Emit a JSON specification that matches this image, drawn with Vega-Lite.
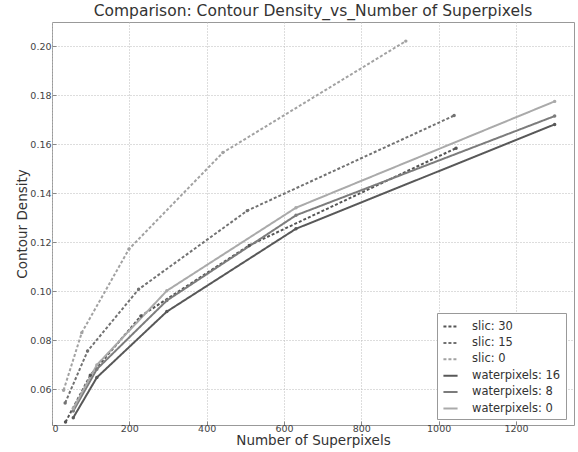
{
  "$schema": "https://vega.github.io/schema/vega-lite/v6.json",
  "width": 522,
  "height": 403,
  "autosize": {"type": "none"},
  "padding": {"left": 52, "top": 22, "right": 4, "bottom": 27},
  "background": "#ffffff",
  "title": {"text": "Comparison: Contour Density_vs_Number of Superpixels", "fontSize": 15.5, "font": "DejaVu Sans", "fontWeight": "normal", "color": "#333333", "offset": 3, "anchor": "middle"},
  "data": {"values": [
    {"series": "slic: 30", "x": 35, "y": 0.0467},
    {"series": "slic: 30", "x": 99, "y": 0.0658},
    {"series": "slic: 30", "x": 230, "y": 0.0900},
    {"series": "slic: 30", "x": 510, "y": 0.1188},
    {"series": "slic: 30", "x": 1045, "y": 0.1585},
    {"series": "slic: 15", "x": 34, "y": 0.0545},
    {"series": "slic: 15", "x": 92, "y": 0.0757},
    {"series": "slic: 15", "x": 224, "y": 0.1009},
    {"series": "slic: 15", "x": 505, "y": 0.1330},
    {"series": "slic: 15", "x": 1040, "y": 0.1718},
    {"series": "slic: 0", "x": 30, "y": 0.0597},
    {"series": "slic: 0", "x": 77, "y": 0.0832},
    {"series": "slic: 0", "x": 199, "y": 0.1173},
    {"series": "slic: 0", "x": 442, "y": 0.1567},
    {"series": "slic: 0", "x": 915, "y": 0.2022},
    {"series": "waterpixels: 16", "x": 55, "y": 0.0485},
    {"series": "waterpixels: 16", "x": 116, "y": 0.0649},
    {"series": "waterpixels: 16", "x": 297, "y": 0.0918},
    {"series": "waterpixels: 16", "x": 631, "y": 0.1256},
    {"series": "waterpixels: 16", "x": 1300, "y": 0.1682},
    {"series": "waterpixels: 8", "x": 55, "y": 0.0512},
    {"series": "waterpixels: 8", "x": 116, "y": 0.0683},
    {"series": "waterpixels: 8", "x": 297, "y": 0.0963},
    {"series": "waterpixels: 8", "x": 631, "y": 0.1311},
    {"series": "waterpixels: 8", "x": 1300, "y": 0.1716},
    {"series": "waterpixels: 0", "x": 55, "y": 0.0522},
    {"series": "waterpixels: 0", "x": 116, "y": 0.0700},
    {"series": "waterpixels: 0", "x": 297, "y": 0.1003},
    {"series": "waterpixels: 0", "x": 631, "y": 0.1342},
    {"series": "waterpixels: 0", "x": 1300, "y": 0.1776}
  ]},
  "mark": {"type": "line", "strokeWidth": 2, "point": {"filled": true, "size": 12}},
  "encoding": {
    "x": {"field": "x", "type": "quantitative", "scale": {"domain": [0, 1350], "nice": false, "zero": false},
      "axis": {"title": "Number of Superpixels", "values": [0, 200, 400, 600, 800, 1000, 1200], "format": "d"}},
    "y": {"field": "y", "type": "quantitative", "scale": {"domain": [0.0455, 0.21], "nice": false, "zero": false},
      "axis": {"title": "Contour Density", "values": [0.06, 0.08, 0.10, 0.12, 0.14, 0.16, 0.18, 0.20], "format": ".2f"}},
    "color": {"field": "series", "type": "nominal",
      "sort": ["slic: 30", "slic: 15", "slic: 0", "waterpixels: 16", "waterpixels: 8", "waterpixels: 0"],
      "scale": {"domain": ["slic: 30", "slic: 15", "slic: 0", "waterpixels: 16", "waterpixels: 8", "waterpixels: 0"],
        "range": ["#555555", "#727272", "#a2a2a2", "#585858", "#7c7c7c", "#aaaaaa"]},
      "legend": {"title": null, "orient": "none", "legendX": 385, "legendY": 291}},
    "strokeDash": {"field": "series", "type": "nominal",
      "sort": ["slic: 30", "slic: 15", "slic: 0", "waterpixels: 16", "waterpixels: 8", "waterpixels: 0"],
      "scale": {"domain": ["slic: 30", "slic: 15", "slic: 0", "waterpixels: 16", "waterpixels: 8", "waterpixels: 0"],
        "range": [[3, 2], [3, 2], [3, 2], [1, 0], [1, 0], [1, 0]]},
      "legend": {"title": null, "orient": "none", "legendX": 385, "legendY": 291}}
  },
  "config": {
    "font": "DejaVu Sans",
    "view": {"stroke": "#999999", "strokeWidth": 1},
    "axis": {
      "domain": false,
      "grid": true, "gridColor": "#bbbbbb", "gridDash": [1, 2], "gridWidth": 1,
      "ticks": true, "tickSize": -4, "tickColor": "#888888",
      "labelFont": "DejaVu Sans", "labelFontSize": 9.5, "labelColor": "#444444",
      "titleFont": "DejaVu Sans", "titleFontSize": 13.5, "titleFontWeight": "normal", "titleColor": "#333333"
    },
    "axisX": {"labelPadding": 2, "titlePadding": 1},
    "axisY": {"labelPadding": 5, "titlePadding": 0},
    "legend": {
      "fillColor": "#ffffff", "strokeColor": "#999999", "padding": 5,
      "labelFont": "DejaVu Sans", "labelFontSize": 11.5, "labelColor": "#333333",
      "symbolType": "stroke", "symbolSize": 200, "symbolStrokeWidth": 2,
      "rowPadding": 2.4, "labelOffset": 13
    }
  }
}
